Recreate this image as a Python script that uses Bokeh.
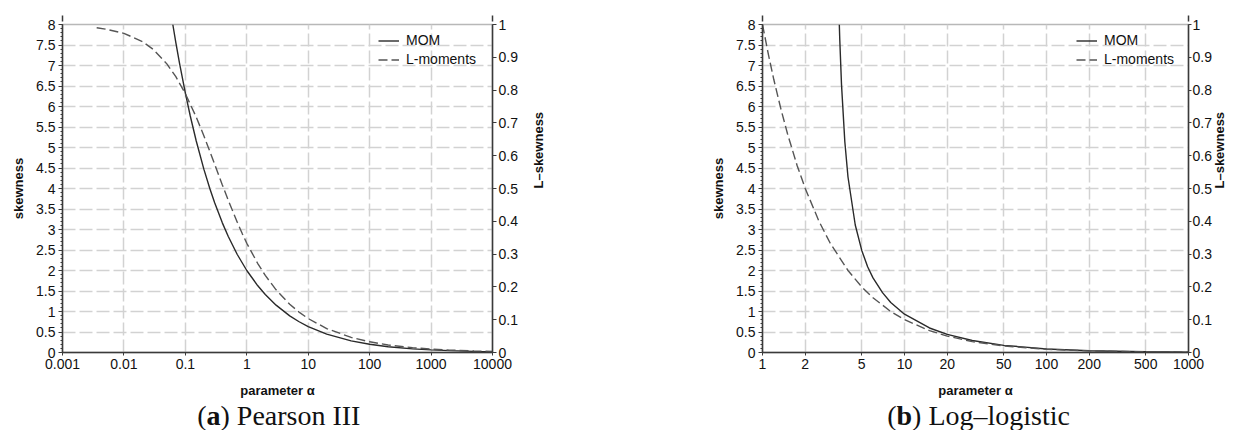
import math
from bokeh.plotting import figure
from bokeh.models import (Range1d, LinearAxis, FixedTicker, Legend, LegendItem,
                          Arrow, NormalHead)
from bokeh.layouts import column, row
from bokeh.embed import file_html
from bokeh.resources import INLINE
from bokeh.core.properties import value

# ---------------- data ----------------
# (a) Pearson III
p3_x_ticks = [0.001, 0.01, 0.1, 1, 10, 100, 1000, 10000]
p3_x_labels = ["0.001", "0.01", "0.1", "1", "10", "100", "1000", "10000"]

p3_mom_alpha = [0.0625, 0.07, 0.08, 0.1, 0.12, 0.15, 0.2, 0.25, 0.3, 0.4, 0.5,
                0.7, 1, 1.5, 2, 3, 5, 7, 10, 20, 50, 100, 200, 500, 1000,
                2000, 5000, 10000]
p3_mom_skew = [8.000, 7.559, 7.071, 6.325, 5.774, 5.164, 4.472, 4.000, 3.651,
               3.162, 2.828, 2.390, 2.000, 1.633, 1.414, 1.155, 0.894, 0.756,
               0.632, 0.447, 0.283, 0.200, 0.141, 0.089, 0.063, 0.045, 0.028,
               0.020]

p3_lm_alpha = [0.0036, 0.005, 0.01, 0.02, 0.03, 0.05, 0.07, 0.1, 0.15, 0.2,
               0.3, 0.4, 0.5, 0.7, 0.85, 1, 1.5, 2, 3, 5, 7, 10, 20, 50, 100,
               200, 500, 1000, 2000, 5000, 10000]
p3_lm_tau3 = [0.990, 0.986, 0.973, 0.948, 0.924, 0.880, 0.841, 0.789, 0.718,
              0.661, 0.574, 0.511, 0.464, 0.397, 0.361, 0.333, 0.272, 0.235,
              0.191, 0.147, 0.124, 0.1035, 0.0730, 0.0461, 0.0326, 0.0230,
              0.0146, 0.0103, 0.0073, 0.0046, 0.0033]

# (b) Log-logistic
ll_x_ticks = [1, 2, 5, 10, 20, 50, 100, 200, 500, 1000]
ll_x_labels = ["1", "2", "5", "10", "20", "50", "100", "200", "500", "1000"]

ll_mom_alpha = [3.475, 3.5, 3.6, 3.8, 4, 4.5, 5, 5.5, 6, 7, 8, 10, 15, 20, 30,
                50, 100, 200, 500, 1000]
ll_mom_skew = [8.00, 7.64, 6.54, 5.14, 4.28, 3.11, 2.49, 2.09, 1.82, 1.46,
               1.22, 0.935, 0.598, 0.442, 0.292, 0.175, 0.087, 0.0435, 0.0174,
               0.0087]

ll_lm_alpha = [1, 1.1, 1.2, 1.35, 1.5, 1.75, 2, 2.5, 3, 4, 5, 6, 8, 10, 15, 20,
               30, 50, 100, 200, 500, 1000]
ll_lm_tau3 = [1.0, 0.909, 0.833, 0.741, 0.667, 0.571, 0.5, 0.4, 0.333, 0.25,
              0.2, 0.167, 0.125, 0.1, 0.0667, 0.05, 0.0333, 0.02, 0.01, 0.005,
              0.002, 0.001]

skew_ticks = [0, 0.5, 1, 1.5, 2, 2.5, 3, 3.5, 4, 4.5, 5, 5.5, 6, 6.5, 7, 7.5, 8]
skew_labels = ["0", "0.5", "1", "1.5", "2", "2.5", "3", "3.5", "4", "4.5", "5",
               "5.5", "6", "6.5", "7", "7.5", "8"]
lsk_ticks = [0, 0.1, 0.2, 0.3, 0.4, 0.5, 0.6, 0.7, 0.8, 0.9, 1]
lsk_labels = ["0", "0.1", "0.2", "0.3", "0.4", "0.5", "0.6", "0.7", "0.8",
              "0.9", "1"]

series_labels = ["MOM", "L-moments"]

# ---------------- styling ----------------
SANS = "Liberation Sans"
TICK_FS = "14px"
LAB_FS = "13px"
AX_COL = "#3a3a3a"
GRID_COL = "#d2d2d2"
TOP = 24
FRAME_H = 328
H = 400


def style_axis(ax, label, standoff, tick_out=4):
    ax.axis_label = label
    ax.axis_label_text_font = SANS
    ax.axis_label_text_font_size = LAB_FS
    ax.axis_label_text_font_style = "bold"
    ax.axis_label_text_color = "#111111"
    ax.axis_label_standoff = standoff
    ax.major_label_text_font = SANS
    ax.major_label_text_font_size = TICK_FS
    ax.major_label_text_color = "#111111"
    ax.axis_line_color = AX_COL
    ax.axis_line_width = 1.5
    ax.major_tick_line_color = AX_COL
    ax.major_tick_out = tick_out
    ax.major_tick_in = 0
    ax.minor_tick_line_color = None


def make_panel(width, bl, br, xr, xticks, xlabels, mom_x, mom_y, lm_x, lm_y,
               leg_x, right_std, right_label_std, right_tick_out):
    p = figure(width=width, height=H, x_axis_type="log",
               x_range=Range1d(*xr), y_range=Range1d(0, 8),
               output_backend="svg", toolbar_location=None,
               title_location=None,
               min_border_left=bl, min_border_right=br,
               min_border_top=TOP, min_border_bottom=H - TOP - FRAME_H)
    p.background_fill_color = "white"
    p.border_fill_color = "white"
    p.outline_line_color = "#b8b8b8"
    p.outline_line_width = 1.5
    p.extra_y_ranges = {"lsk": Range1d(0, 1)}

    # x axis
    xax = p.xaxis[0]
    xax.ticker = FixedTicker(ticks=xticks)
    xax.major_label_overrides = dict(zip(xticks, xlabels))
    style_axis(xax, "parameter \u03b1", 11, tick_out=3)
    xax.major_label_standoff = 3

    # left y axis
    yax = p.yaxis[0]
    minor = [round(0.1 * i, 1) for i in range(81)]
    yax.ticker = FixedTicker(ticks=skew_ticks, minor_ticks=minor)
    yax.major_label_overrides = dict(zip(skew_ticks, skew_labels))
    style_axis(yax, "skewness", 7)
    yax.major_label_standoff = 3
    yax.minor_tick_line_color = AX_COL
    yax.minor_tick_out = 2
    yax.minor_tick_in = 0

    # right y axis
    rax = LinearAxis(y_range_name="lsk",
                     ticker=FixedTicker(ticks=lsk_ticks, minor_ticks=[]))
    rax.major_label_overrides = dict(zip(lsk_ticks, lsk_labels))
    style_axis(rax, "L\u2013skewness", right_label_std, tick_out=right_tick_out)
    rax.axis_label_orientation = math.pi / 2
    rax.major_label_standoff = right_std
    p.add_layout(rax, "right")

    # grids
    for g in (p.xgrid[0], p.ygrid[0]):
        g.grid_line_color = GRID_COL
        g.grid_line_width = 1.5
        g.grid_line_dash = "13 4"
    p.xgrid[0].ticker = FixedTicker(ticks=xticks)
    p.ygrid[0].ticker = FixedTicker(ticks=skew_ticks)

    # curves
    r_mom = p.line(mom_x, mom_y, line_color="#2a2a2a", line_width=1.4)
    r_lm = p.line(lm_x, lm_y, y_range_name="lsk", line_color="#555555",
                  line_width=1.4, line_dash="9 4")

    # arrows on the top of the vertical axes
    for xa in (xr[0], xr[1]):
        p.add_layout(Arrow(end=NormalHead(size=6, fill_color="#111111",
                                          line_color="#111111", line_width=1),
                           x_start=xa, y_start=8, x_end=xa, y_end=8.22,
                           line_color=AX_COL, line_width=1.5))

    legend = Legend(items=[LegendItem(label=series_labels[0], renderers=[r_mom]),
                           LegendItem(label=series_labels[1], renderers=[r_lm])],
                    location=(leg_x, FRAME_H - 44.5),
                    margin=0, padding=5, spacing=0,
                    glyph_width=21, glyph_height=19, label_height=19,
                    label_standoff=7,
                    label_text_font=SANS, label_text_font_size=TICK_FS,
                    label_text_color="#111111",
                    border_line_color=None, background_fill_alpha=0)
    p.add_layout(legend)
    return p


p1 = make_panel(620, 62, 128, (0.001, 10000), p3_x_ticks, p3_x_labels,
                p3_mom_alpha, p3_mom_skew, p3_lm_alpha, p3_lm_tau3,
                leg_x=316, right_std=2, right_label_std=18, right_tick_out=4)
p2 = make_panel(618, 142, 50, (1, 1000), ll_x_ticks, ll_x_labels,
                ll_mom_alpha, ll_mom_skew, ll_lm_alpha, ll_lm_tau3,
                leg_x=314, right_std=1, right_label_std=5, right_tick_out=3)

# ---------------- captions ----------------
cap_letters = ["a", "b"]
cap_texts = [") Pearson III", ") Log\u2013logistic"]
cap_x = [206, 896]       # left edge of the bold letter (page pixels)
cap_letter_w = [14, 15.6]
CAP_H = 30
CAP_FS = "28px"

cap = figure(width=1238, height=CAP_H, x_range=Range1d(0, 1238),
             y_range=Range1d(0, CAP_H), output_backend="svg",
             toolbar_location=None, title_location=None,
             x_axis_location=None, y_axis_location=None, min_border=0)
cap.grid.visible = False
cap.outline_line_color = None
cap.background_fill_color = "white"
SERIF = value("Liberation Serif")
CAP_Y = [15, 15]
cap.text(x=cap_x, y=CAP_Y, text=["(", "("], text_align="right",
         text_baseline="alphabetic", text_font=SERIF, text_font_size=CAP_FS,
         text_color="#111111")
cap.text(x=cap_x, y=CAP_Y, text=cap_letters, text_align="left",
         text_baseline="alphabetic", text_font=SERIF, text_font_size=CAP_FS,
         text_font_style="bold", text_color="#111111")
cap.text(x=[cap_x[0] + cap_letter_w[0], cap_x[1] + cap_letter_w[1]], y=CAP_Y,
         text=cap_texts, text_align="left", text_baseline="alphabetic",
         text_font=SERIF, text_font_size=CAP_FS, text_color="#111111")

layout = column(row(p1, p2), cap)
open("out.html", "w").write(file_html(layout, INLINE))
